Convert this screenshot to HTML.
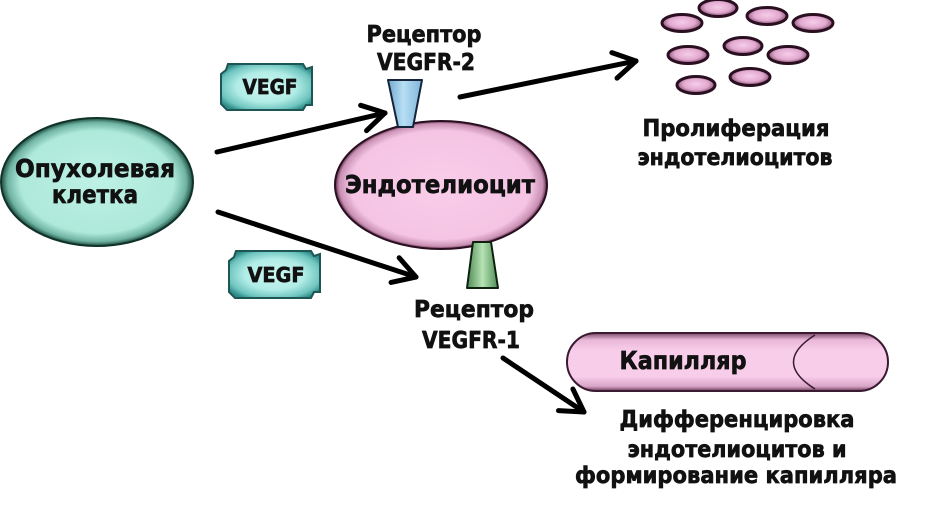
<!DOCTYPE html>
<html>
<head>
<meta charset="utf-8">
<style>
html,body{margin:0;padding:0;background:#fff;}
svg{display:block;}
text{font-family:"DejaVu Sans","Liberation Sans",sans-serif;font-weight:bold;fill:#111;stroke:#111;stroke-width:0.7;}
</style>
</head>
<body>
<svg width="929" height="518" viewBox="0 0 929 518" xmlns="http://www.w3.org/2000/svg">
<defs>
  <radialGradient id="gTumor" cx="50%" cy="50%" r="50%">
    <stop offset="0%" stop-color="#bdf1e5"/>
    <stop offset="80%" stop-color="#aee9da"/>
    <stop offset="93%" stop-color="#6fb3a2"/>
    <stop offset="100%" stop-color="#1c4a3e"/>
  </radialGradient>
  <radialGradient id="gPink" cx="50%" cy="50%" r="50%">
    <stop offset="0%" stop-color="#f9cdea"/>
    <stop offset="85%" stop-color="#f5c4e4"/>
    <stop offset="96%" stop-color="#c890b2"/>
    <stop offset="100%" stop-color="#5a2a48"/>
  </radialGradient>
  <radialGradient id="gDot" cx="50%" cy="45%" r="55%">
    <stop offset="0%" stop-color="#f6cdea"/>
    <stop offset="60%" stop-color="#e2a9cf"/>
    <stop offset="100%" stop-color="#7b4266"/>
  </radialGradient>
  <linearGradient id="gCap" x1="0" y1="0" x2="0" y2="1">
    <stop offset="0%" stop-color="#7a4a68"/>
    <stop offset="12%" stop-color="#e9b7d8"/>
    <stop offset="30%" stop-color="#f8cdea"/>
    <stop offset="75%" stop-color="#f8cdea"/>
    <stop offset="92%" stop-color="#d8a4c6"/>
    <stop offset="100%" stop-color="#6a3a58"/>
  </linearGradient>
  <linearGradient id="gBlue" x1="0" y1="0" x2="1" y2="0">
    <stop offset="0%" stop-color="#6fa9cf"/>
    <stop offset="45%" stop-color="#b8def4"/>
    <stop offset="100%" stop-color="#7fb6da"/>
  </linearGradient>
  <linearGradient id="gGreen" x1="0" y1="0" x2="1" y2="0">
    <stop offset="0%" stop-color="#4d8a55"/>
    <stop offset="50%" stop-color="#b6e3b3"/>
    <stop offset="100%" stop-color="#4e8c57"/>
  </linearGradient>
  <radialGradient id="gVegf" cx="50%" cy="50%" r="60%">
    <stop offset="0%" stop-color="#cdf7f3"/>
    <stop offset="55%" stop-color="#b1ece6"/>
    <stop offset="85%" stop-color="#6ec4bf"/>
    <stop offset="100%" stop-color="#2f8c88"/>
  </radialGradient>
  <marker id="ah" markerUnits="userSpaceOnUse" markerWidth="40" markerHeight="40" refX="0" refY="0" viewBox="-30 -20 40 40" orient="auto" overflow="visible">
    <path d="M -22,-13 L 0,0 L -22,13" fill="none" stroke="#000" stroke-width="5" stroke-linecap="round" stroke-linejoin="round"/>
  </marker>
</defs>

<!-- Tumor cell -->
<ellipse cx="97" cy="182" rx="96" ry="64" fill="url(#gTumor)" stroke="#0f3328" stroke-width="2"/>
<text x="95" y="177" font-size="25" text-anchor="middle" textLength="160" lengthAdjust="spacingAndGlyphs">Опухолевая</text>
<text x="95" y="203" font-size="25" text-anchor="middle" textLength="86" lengthAdjust="spacingAndGlyphs">клетка</text>

<!-- VEGF badge 1 -->
<path d="M228,64 L303,64 L306,69 L312,67 L312,105 L306,105 L303,110 L227,110 L221,104 L221,74 L226,70 Z" fill="url(#gVegf)" stroke="#1d5654" stroke-width="2"/>
<text x="270" y="94" font-size="20" text-anchor="middle" textLength="55" lengthAdjust="spacingAndGlyphs">VEGF</text>

<!-- VEGF badge 2 -->
<path d="M236,251 L311,251 L314,256 L320,254 L320,292 L314,292 L311,298 L235,298 L229,292 L229,261 L234,257 Z" fill="url(#gVegf)" stroke="#1d5654" stroke-width="2"/>
<text x="276" y="282" font-size="20" text-anchor="middle" textLength="57" lengthAdjust="spacingAndGlyphs">VEGF</text>

<!-- Arrows -->
<line x1="217" y1="152" x2="385" y2="113" stroke="#000" stroke-width="5" stroke-linecap="round" marker-end="url(#ah)"/>
<line x1="218" y1="212" x2="416" y2="277" stroke="#000" stroke-width="5" stroke-linecap="round" marker-end="url(#ah)"/>
<line x1="460" y1="97" x2="636" y2="61" stroke="#000" stroke-width="5" stroke-linecap="round" marker-end="url(#ah)"/>
<line x1="503" y1="358" x2="584" y2="412" stroke="#000" stroke-width="5" stroke-linecap="round" marker-end="url(#ah)"/>

<!-- Endothelial cell -->
<ellipse cx="441" cy="185" rx="106" ry="64" fill="url(#gPink)" stroke="#2a0f20" stroke-width="2"/>
<text x="440" y="193" font-size="25" text-anchor="middle" textLength="190" lengthAdjust="spacingAndGlyphs">Эндотелиоцит</text>

<!-- Receptor VEGFR-2 -->
<path d="M388,80 L422,80 L413,127 L398,127 Z" fill="url(#gBlue)" stroke="#16243a" stroke-width="2" stroke-linejoin="round"/>
<text x="424" y="42" font-size="23" text-anchor="middle" textLength="115" lengthAdjust="spacingAndGlyphs">Рецептор</text>
<text x="426" y="70" font-size="23" text-anchor="middle" textLength="98" lengthAdjust="spacingAndGlyphs">VEGFR-2</text>

<!-- Receptor VEGFR-1 -->
<path d="M473,242 L491,242 L498,288 L467,288 Z" fill="url(#gGreen)" stroke="#0e200e" stroke-width="2" stroke-linejoin="round"/>
<text x="474" y="317" font-size="23" text-anchor="middle" textLength="120" lengthAdjust="spacingAndGlyphs">Рецептор</text>
<text x="471" y="348" font-size="23" text-anchor="middle" textLength="98" lengthAdjust="spacingAndGlyphs">VEGFR-1</text>

<!-- Proliferation dots -->
<g fill="url(#gDot)" stroke="#2a0f20" stroke-width="3">
  <ellipse cx="718" cy="8" rx="19" ry="8.5"/>
  <ellipse cx="767" cy="16" rx="20" ry="8.5"/>
  <ellipse cx="682" cy="23" rx="20" ry="8.5"/>
  <ellipse cx="813" cy="23" rx="20" ry="8.5"/>
  <ellipse cx="743" cy="46" rx="19" ry="8.5"/>
  <ellipse cx="688" cy="55" rx="20" ry="8.5"/>
  <ellipse cx="788" cy="55" rx="20" ry="8.5"/>
  <ellipse cx="750" cy="77" rx="20" ry="8.5"/>
  <ellipse cx="696" cy="85" rx="19" ry="8.5"/>
</g>
<text x="736" y="136" font-size="23" text-anchor="middle" textLength="187" lengthAdjust="spacingAndGlyphs">Пролиферация</text>
<text x="735" y="165" font-size="23" text-anchor="middle" textLength="195" lengthAdjust="spacingAndGlyphs">эндотелиоцитов</text>

<!-- Capillary -->
<rect x="567" y="333" width="321" height="58" rx="29" ry="29" fill="url(#gCap)" stroke="#3a1a30" stroke-width="2"/>
<path d="M815,335 Q772,362 815,389" fill="none" stroke="#3a1a30" stroke-width="1.5"/>
<text x="683" y="369" font-size="25" text-anchor="middle" textLength="127" lengthAdjust="spacingAndGlyphs">Капилляр</text>

<text x="737" y="427" font-size="23" text-anchor="middle" textLength="235" lengthAdjust="spacingAndGlyphs">Дифференцировка</text>
<text x="737" y="457" font-size="23" text-anchor="middle" textLength="219" lengthAdjust="spacingAndGlyphs">эндотелиоцитов и</text>
<text x="736" y="483" font-size="23" text-anchor="middle" textLength="322" lengthAdjust="spacingAndGlyphs">формирование капилляра</text>
</svg>
</body>
</html>
